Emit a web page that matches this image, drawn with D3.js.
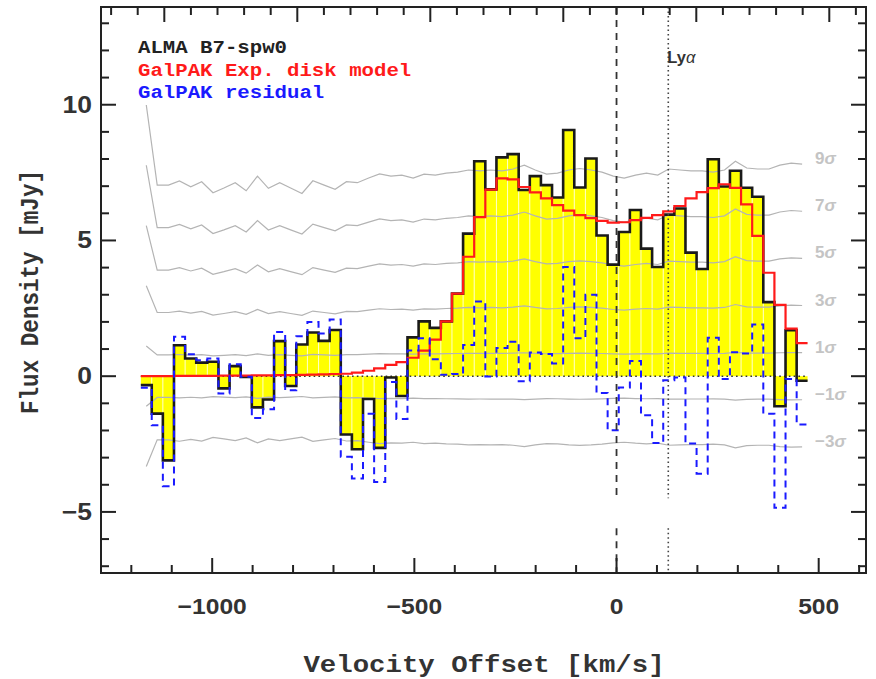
<!DOCTYPE html>
<html><head><meta charset="utf-8">
<script src="https://cdn.jsdelivr.net/npm/d3@7"></script>
<style>body{margin:0;background:#fff}svg{display:block}</style>
</head><body>
<svg id="c" width="876" height="679"></svg>
<script>
// ---------- data ----------
const velocity = [-1163,-1136,-1108,-1081,-1053,-1026,-998,-971,-943,-916,-888,-861,-833,-806,-778,-751,-723,-696,-668,-641,
  -613,-586,-558,-531,-503,-476,-448,-421,-393,-366,-338,-311,-283,-256,-228,-201,-173,-146,-118,-91,
  -63,-36,-8,19,47,74,102,129,157,184,212,239,267,294,322,349,377,404,432,459];
const fluxALMA = [-0.33,-1.38,-3.10,1.14,0.65,0.50,0.53,-0.45,0.37,-0.03,-1.15,-0.86,1.29,-0.36,1.17,1.61,1.30,1.70,-2.15,-2.69,
  -0.84,-2.64,-0.05,-0.73,1.43,2.02,1.78,2.02,3.04,5.25,7.92,6.88,8.06,8.18,6.86,7.37,7.04,6.58,9.07,6.95,
  8.02,5.18,4.11,5.31,6.12,4.70,4.02,5.95,6.18,4.55,3.95,7.99,6.99,7.57,6.94,6.61,2.73,-1.11,1.69,-0.17];
const fluxModel = [0.00,0.00,0.00,0.01,0.01,0.01,0.01,0.02,0.02,0.02,0.03,0.03,0.04,0.04,0.05,0.06,0.07,0.08,0.09,0.13,
  0.20,0.29,0.42,0.52,0.68,0.94,1.35,2.02,3.04,4.40,5.86,6.87,7.29,7.25,6.97,6.77,6.55,6.30,6.10,5.93,
  5.82,5.72,5.66,5.67,5.75,5.83,5.93,6.07,6.27,6.55,6.78,6.93,7.07,6.94,6.33,5.17,3.81,2.63,1.75,1.22];
const fluxResidual = [-0.43,-1.81,-4.05,1.45,0.81,0.59,0.65,-0.64,0.44,-0.02,-1.54,-1.22,1.63,-0.52,1.47,2.00,1.57,2.09,-2.97,-3.77,
  -1.38,-3.90,-0.21,-1.58,0.95,1.40,0.62,0.05,0.08,1.15,2.75,-0.01,1.04,1.27,-0.19,0.87,0.82,0.47,4.02,1.40,
  3.00,-0.62,-1.99,-0.42,0.56,-1.44,-2.46,-0.15,-0.05,-2.48,-3.59,1.42,-0.10,0.88,0.84,1.90,-1.38,-4.85,-0.10,-1.78];
const noiseSigma = [1.11,0.782,0.782,0.799,0.775,0.796,0.751,0.770,0.792,0.759,0.819,0.769,0.792,0.770,0.748,0.800,0.782,0.765,0.796,0.792,
  0.811,0.828,0.819,0.823,0.811,0.827,0.823,0.831,0.835,0.844,0.840,0.844,0.840,0.848,0.864,0.844,0.827,0.831,0.844,0.850,
  0.844,0.835,0.819,0.811,0.823,0.831,0.823,0.848,0.844,0.840,0.840,0.835,0.844,0.880,0.852,0.848,0.848,0.864,0.872,0.868];
const sigmaLevels = [9, 7, 5, 3, 1, -1, -3];
const sigmaLabels = ["9", "7", "5", "3", "1", "\u22121", "\u22123"];
const xTickValues = [-1000, -500, 0, 500];
const xTickLabels = ["\u22121000", "\u2212500", "0", "500"];
const yTickValues = [-5, 0, 5, 10];
const yTickLabels = ["\u22125", "0", "5", "10"];
const xDomain = [-1275, 617];
const yDomain = [-7.25, 13.6];
const systemicVelocity = 0;
const lyaVelocity = 128;
const legendLabels = ["ALMA B7-spw0", "GalPAK Exp. disk model", "GalPAK residual"];
const legendColors = ["#222222", "#ff1a1a", "#1a1aff"];
const xTitle = "Velocity Offset [km/s]";
const yTitle = "Flux Density [mJy]";

// ---------- drawing ----------
const svg = d3.select("#c");
const L = 101, R = 866, T = 7, B = 573;
const x = d3.scaleLinear().domain(xDomain).range([L, R]);
const y = d3.scaleLinear().domain(yDomain).range([B, T]);
const n = velocity.length;
const edges = velocity.map((v, i) => i === 0 ? v - (velocity[1] - v) / 2 : (velocity[i - 1] + v) / 2);
edges.push(velocity[n - 1] + (velocity[n - 1] - velocity[n - 2]) / 2);

const stepPts = vals => vals.flatMap((v, i) => [[edges[i], v], [edges[i + 1], v]]);
const line = d3.line().x(d => x(d[0])).y(d => y(d[1]));

const plot = svg.append("g");
// yellow channel bars
plot.selectAll("rect.bar").data(fluxALMA).join("rect")
  .attr("x", (d, i) => x(edges[i])).attr("width", (d, i) => x(edges[i + 1]) - x(edges[i]))
  .attr("y", d => y(Math.max(0, d))).attr("height", d => Math.abs(y(d) - y(0)))
  .attr("fill", "#ffff00");
// faint light separators between channels
plot.selectAll("line.sep").data(fluxALMA.slice(1)).join("line")
  .attr("x1", (d, i) => x(edges[i + 1])).attr("x2", (d, i) => x(edges[i + 1]))
  .attr("y1", y(0)).attr("y2", (d, i) => y(Math.sign(d) === Math.sign(fluxALMA[i]) ? (Math.abs(d) < Math.abs(fluxALMA[i]) ? d : fluxALMA[i]) : 0))
  .attr("stroke", "#ffffc8").attr("stroke-width", 1);

// sigma noise curves
sigmaLevels.forEach(k => {
  plot.append("path")
    .attr("d", d3.line().x((d, i) => x(velocity[i])).y(d => y(k * d))(noiseSigma))
    .attr("fill", "none").attr("stroke", "#b4b4b4").attr("stroke-width", 1.2);
});
// zero dotted line
plot.append("line").attr("x1", x(edges[0])).attr("x2", x(edges[n])).attr("y1", y(0)).attr("y2", y(0))
  .attr("stroke", "#333").attr("stroke-width", 1.6).attr("stroke-dasharray", "1.6,3.2");

// data, model, residual steps
plot.append("path").attr("d", line(stepPts(fluxALMA))).attr("fill", "none")
  .attr("stroke", "#1a1a1a").attr("stroke-width", 2.6).attr("stroke-linejoin", "miter");
plot.append("path").attr("d", line(stepPts(fluxModel))).attr("fill", "none")
  .attr("stroke", "#ff1a1a").attr("stroke-width", 2.2);
plot.append("path").attr("d", line(stepPts(fluxResidual))).attr("fill", "none")
  .attr("stroke", "#1a1aff").attr("stroke-width", 2).attr("stroke-dasharray", "7,5");

// vertical reference lines (with a gap around -5)
const gapTop = -4.5, gapBot = -5.6;
[[systemicVelocity, "7,6", "#333", 1.8], [lyaVelocity, "1.5,3", "#444", 1.6]].forEach(([v, dash, col, w]) => {
  [[yDomain[1], gapTop], [gapBot, yDomain[0]]].forEach(([a, b]) => {
    plot.append("line").attr("x1", x(v)).attr("x2", x(v)).attr("y1", y(a)).attr("y2", y(b))
      .attr("stroke", col).attr("stroke-width", w).attr("stroke-dasharray", dash);
  });
});

// sigma labels
const lastSig = noiseSigma[n - 1];
sigmaLevels.forEach((k, j) => {
  const t = svg.append("text").attr("x", 815).attr("y", y(k * lastSig) - 4)
    .attr("dominant-baseline", "middle")
    .attr("font-family", "Liberation Sans, Arial, sans-serif").attr("font-weight", "bold")
    .attr("font-size", 17).attr("fill", "#c4c4c4");
  t.append("tspan").text(sigmaLabels[j]);
  t.append("tspan").attr("font-style", "italic").text("\u03c3");
});

// Ly alpha label
const lya = svg.append("text").attr("x", x(lyaVelocity) - 1).attr("y", 63)
  .attr("font-family", "Liberation Sans, Arial, sans-serif").attr("font-weight", "bold")
  .attr("font-size", 16.5).attr("fill", "#333");
lya.append("tspan").text("Ly");
lya.append("tspan").attr("font-style", "italic").attr("font-weight", "normal").text("\u03b1");

// legend
legendLabels.forEach((s, i) => {
  svg.append("text").attr("transform", `translate(138,${53 + i * 22.5}) scale(1.09,1)`)
    .attr("font-family", "Liberation Mono, Courier New, monospace").attr("font-weight", "bold")
    .attr("font-size", 19).attr("fill", legendColors[i]).text(s);
});

// axes
const axesG = svg.append("g").attr("stroke", "#222").attr("fill", "none");
axesG.append("rect").attr("x", L).attr("y", T).attr("width", R - L).attr("height", B - T).attr("stroke-width", 2);

const tickLine = (g, x1, y1, x2, y2) => g.append("line").attr("x1", x1).attr("y1", y1).attr("x2", x2).attr("y2", y2).attr("stroke-width", 2);
// bottom velocity ticks (minor every 100 km/s)
const minorX = d3.range(-1200, 601, 100);
minorX.forEach(v => {
  const len = v % 500 === 0 ? 15 : 8;
  tickLine(axesG, x(v), B, x(v), B - len);
});
// top axis (secondary scale, no labels)
const xTop = d3.scaleLinear().domain([-2.38, 26.38]).range([L, R]);
d3.range(-2, 27, 1).forEach(t => {
  const len = t % 5 === 0 ? 15 : 8;
  tickLine(axesG, xTop(t), T, xTop(t), T + len);
});
// left & right ticks
d3.range(-7, 14, 1).forEach(v => {
  const len = v % 5 === 0 ? 15 : 8;
  tickLine(axesG, L, y(v), L + len, y(v));
  tickLine(axesG, R, y(v), R - len, y(v));
});

// tick labels
xTickValues.forEach((v, i) => {
  svg.append("text").attr("transform", `translate(${x(v)},614) scale(1.12,1)`).attr("text-anchor", "middle")
    .attr("font-family", "Liberation Sans, Arial, sans-serif").attr("font-weight", "bold")
    .attr("font-size", 22).attr("fill", "#333").text(xTickLabels[i]);
});
yTickValues.forEach((v, i) => {
  svg.append("text").attr("transform", `translate(92,${y(v) + 8}) scale(1.15,1)`).attr("text-anchor", "end")
    .attr("font-family", "Liberation Sans, Arial, sans-serif").attr("font-weight", "bold")
    .attr("font-size", 23).attr("fill", "#333").text(yTickLabels[i]);
});

// axis titles
svg.append("text").attr("transform", `translate(484,672) scale(1.19,1)`).attr("text-anchor", "middle")
  .attr("font-family", "Liberation Mono, Courier New, monospace").attr("font-weight", "bold")
  .attr("font-size", 23).attr("fill", "#333").text(xTitle);
svg.append("text").attr("transform", `translate(38,292) scale(1.15,1) rotate(-90)`).attr("text-anchor", "middle")
  .attr("font-family", "Liberation Mono, Courier New, monospace").attr("font-weight", "bold")
  .attr("font-size", 22.6).attr("fill", "#333").text(yTitle);
</script>
</body></html>
